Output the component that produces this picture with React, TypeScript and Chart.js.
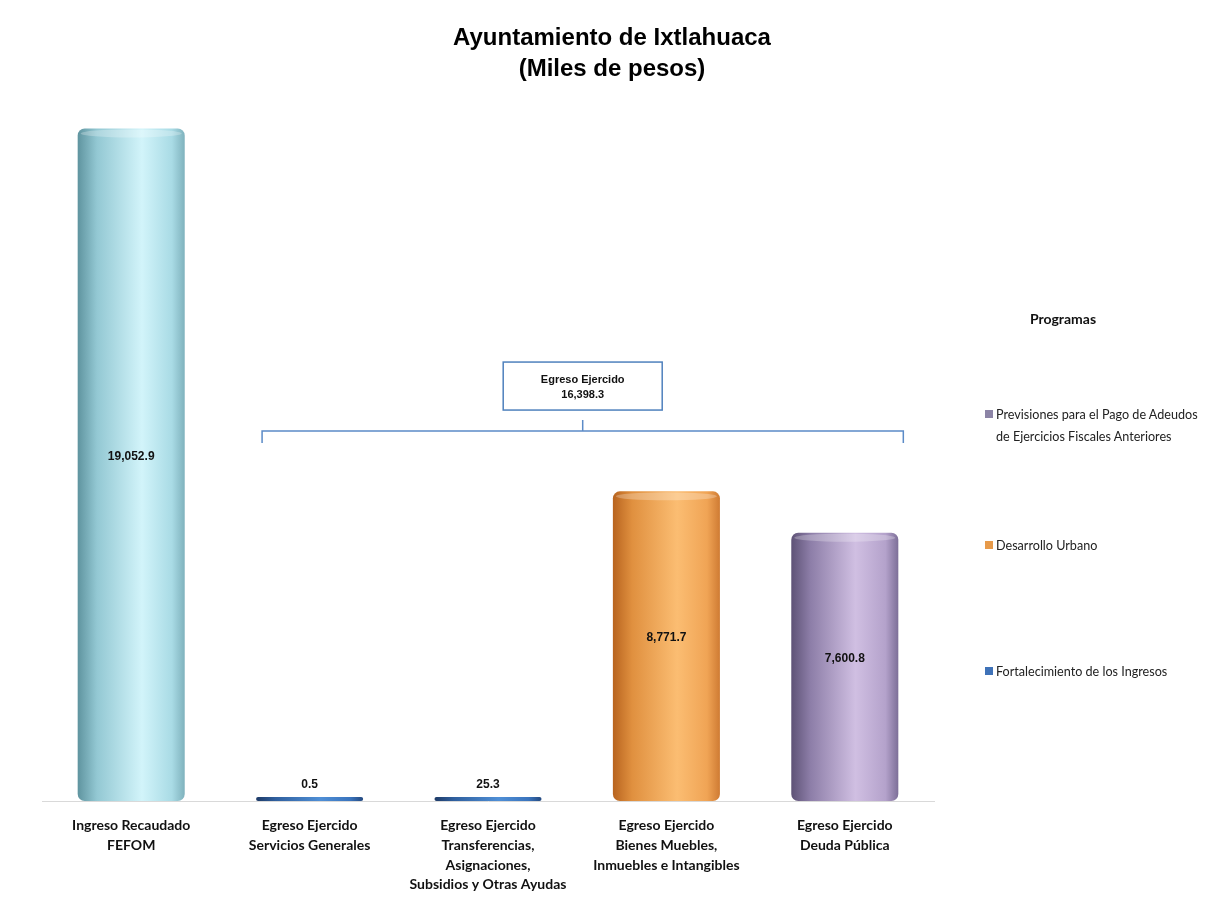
import React, { useEffect, useRef } from "react";
import { Chart, registerables } from "chart.js";

Chart.register(...registerables);

const titleLines = ["Ayuntamiento de Ixtlahuaca", "(Miles de pesos)"];
const categories: string[][] = [
  ["Ingreso Recaudado", "FEFOM"],
  ["Egreso Ejercido", "Servicios Generales"],
  ["Egreso Ejercido", "Transferencias,", "Asignaciones,", "Subsidios y Otras Ayudas"],
  ["Egreso Ejercido", "Bienes Muebles,", "Inmuebles e Intangibles"],
  ["Egreso Ejercido", "Deuda Pública"],
];
const ingresoValues = [19052.9, null, null, null, null];
const fortalecimientoValues = [null, 0.5, 25.3, null, null];
const desarrolloValues = [null, null, null, 8771.7, null];
const previsionesValues = [null, null, null, null, 7600.8];
const legendTitle = "Programas";
const bracketLabel = "Egreso Ejercido";

// gradient stops [edge dark, mid, light, mid, edge]
const ingresoShades = ["#5f949f", "#93c8d3", "#d2f4fa", "#a9dbe5", "#7fb2bd"];
const fortalecimientoShades = ["#1e3a66", "#2f5f9e", "#4f8fd6", "#3a74bd", "#24497f"];
const desarrolloShades = ["#b8641f", "#e0903f", "#fbbd72", "#f0a455", "#cf7b33"];
const previsionesShades = ["#5e5276", "#8d7ea8", "#d0bfe2", "#b4a2cb", "#7d6f98"];

const fmt = (v: number) =>
  v.toLocaleString("en-US", { minimumFractionDigits: 1, maximumFractionDigits: 1 });

function gradientFor(shades: string[]) {
  return (ctx: any) => {
    const chart = ctx.chart;
    const xs = chart.scales?.x;
    if (!xs || !chart.chartArea) return shades[2];
    const i = ctx.dataIndex ?? 0;
    const cx = xs.getPixelForValue(i);
    const w = (xs.width / categories.length) * 0.6;
    const g = chart.ctx.createLinearGradient(cx - w / 2, 0, cx + w / 2, 0);
    g.addColorStop(0, shades[0]);
    g.addColorStop(0.18, shades[1]);
    g.addColorStop(0.6, shades[2]);
    g.addColorStop(0.88, shades[3]);
    g.addColorStop(1, shades[4]);
    return g;
  };
}

const titlePlugin = {
  id: "pageTitle",
  afterDraw(chart: any) {
    const { ctx } = chart;
    ctx.save();
    ctx.fillStyle = "#000";
    ctx.font = "bold 24px 'Liberation Sans', Arial";
    ctx.textAlign = "center";
    ctx.textBaseline = "middle";
    titleLines.forEach((t, i) => ctx.fillText(t, 612, 38 + i * 31));
    ctx.restore();
  },
};

const capsPlugin = {
  id: "caps",
  afterDatasetsDraw(chart: any) {
    const { ctx } = chart;
    chart.data.datasets.forEach((ds: any, di: number) => {
      const meta = chart.getDatasetMeta(di);
      meta.data.forEach((el: any, i: number) => {
        const v = ds.data[i];
        if (v == null) return;
        const { x, y, width, base } = el.getProps(["x", "y", "width", "base"], true);
        if (base - y < 20) return;
        ctx.save();
        ctx.beginPath();
        ctx.ellipse(x, y + 5, width / 2 - 3, 4, 0, 0, Math.PI * 2);
        ctx.fillStyle = "rgba(255,255,255,0.25)";
        ctx.fill();
        ctx.restore();
      });
    });
  },
};

const labelsPlugin = {
  id: "valueLabels",
  afterDatasetsDraw(chart: any) {
    const { ctx } = chart;
    ctx.save();
    ctx.fillStyle = "#111";
    ctx.font = "bold 12px 'Liberation Sans Narrow', 'Liberation Sans', Arial";
    ctx.textAlign = "center";
    ctx.textBaseline = "middle";
    chart.data.datasets.forEach((ds: any, di: number) => {
      const meta = chart.getDatasetMeta(di);
      meta.data.forEach((el: any, i: number) => {
        const v = ds.data[i];
        if (v == null) return;
        const { x, y, base } = el.getProps(["x", "y", "base"], true);
        if (base - y > 40) {
          ctx.fillText(fmt(v), x, (y + base) / 2 - 8);
        } else {
          ctx.fillText(fmt(v), x, y - 12);
        }
      });
    });
    ctx.restore();
  },
};

const bracketPlugin = {
  id: "bracket",
  afterDraw(chart: any) {
    const { ctx } = chart;
    const xs = chart.scales.x;
    const ys = chart.scales.y;
    const w = (xs.width / categories.length) * 0.6;
    const left = xs.getPixelForValue(1) - w / 2 + 6;
    const right = xs.getPixelForValue(4) + w / 2 + 5;
    const yLine = ys.getPixelForValue(10480);
    const mid = (left + right) / 2;
    const total = [fortalecimientoValues, desarrolloValues, previsionesValues]
      .flat()
      .reduce((a: number, b: any) => a + (b ?? 0), 0);
    ctx.save();
    ctx.strokeStyle = "#5b8bc7";
    ctx.lineWidth = 1.5;
    ctx.beginPath();
    ctx.moveTo(left, yLine + 12);
    ctx.lineTo(left, yLine);
    ctx.lineTo(right, yLine);
    ctx.lineTo(right, yLine + 12);
    ctx.moveTo(mid, yLine);
    ctx.lineTo(mid, yLine - 11);
    ctx.stroke();
    const bw = 159;
    const bh = 48;
    const by = yLine - 69;
    ctx.fillStyle = "#fff";
    ctx.fillRect(mid - bw / 2, by, bw, bh);
    ctx.strokeStyle = "#4f81bd";
    ctx.lineWidth = 1.5;
    ctx.strokeRect(mid - bw / 2, by, bw, bh);
    ctx.fillStyle = "#111";
    ctx.font = "bold 11px 'Liberation Sans Narrow', 'Liberation Sans', Arial";
    ctx.textAlign = "center";
    ctx.textBaseline = "middle";
    ctx.fillText(bracketLabel, mid, by + 18);
    ctx.fillText(fmt(total), mid, by + 33);
    ctx.restore();
  },
};

const datasetsDef = [
  { label: "Ingreso Recaudado FEFOM", data: ingresoValues, shades: ingresoShades },
  { label: "Fortalecimiento de los Ingresos", data: fortalecimientoValues, shades: fortalecimientoShades },
  { label: "Desarrollo Urbano", data: desarrolloValues, shades: desarrolloShades },
  {
    label: "Previsiones para el Pago de Adeudos de Ejercicios Fiscales Anteriores",
    data: previsionesValues,
    shades: previsionesShades,
  },
];

const legendItems = [
  { lines: ["Previsiones para el Pago de Adeudos", "de Ejercicios Fiscales Anteriores"], color: "#8c84a6", top: 404 },
  { lines: ["Desarrollo Urbano"], color: "#e79a4a", top: 535 },
  { lines: ["Fortalecimiento de los Ingresos"], color: "#3f72b8", top: 661 },
];

export default function App() {
  const ref = useRef<HTMLCanvasElement>(null);
  useEffect(() => {
    if (!ref.current) return;
    const chart = new Chart(ref.current, {
      type: "bar",
      data: {
        labels: categories,
        datasets: datasetsDef.map((d) => ({
          label: d.label,
          data: d.data as any,
          backgroundColor: gradientFor(d.shades),
          borderWidth: 0,
          borderRadius: 7,
          borderSkipped: false,
          minBarLength: d.label.startsWith("Fort") ? 4 : 0,
          barPercentage: 0.6,
          categoryPercentage: 1,
        })),
      },
      options: {
        responsive: false,
        animation: false,
        layout: { padding: { left: 42, right: 271, top: 95, bottom: 0 } },
        plugins: {
          legend: { display: false },
          tooltip: { enabled: false },
          title: { display: false },
        },
        scales: {
          x: {
            stacked: true,
            grid: { display: false },
            border: { display: true, color: "#d9d9d9", width: 1 },
            ticks: {
              color: "#111",
              padding: 7,
              maxRotation: 0,
              autoSkip: false,
              font: { family: "Lato, 'Open Sans'", size: 14, weight: "bold", lineHeight: 1.4 },
            },
            afterFit: (scale: any) => {
              scale.height = 101;
            },
          },
          y: { stacked: true, display: false, min: 0, max: 20000 },
        },
      },
      plugins: [capsPlugin, labelsPlugin, bracketPlugin, titlePlugin],
    });
    return () => chart.destroy();
  }, []);

  return (
    <div style={{ position: "fixed", left: 0, top: 0, width: 1205, height: 902, background: "#fff" }}>
      <canvas ref={ref} width={1205} height={902} style={{ display: "block" }} />
      <div
        style={{
          position: "absolute",
          left: 963,
          top: 310,
          width: 200,
          textAlign: "center",
          font: "bold 14px Lato, 'Open Sans', sans-serif",
          color: "#111",
        }}
      >
        {legendTitle}
      </div>
      {legendItems.map((it) => (
        <div key={it.lines[0]} style={{ position: "absolute", left: 985, top: it.top }}>
          <div
            style={{
              position: "absolute",
              left: 0,
              top: 6,
              width: 8,
              height: 8,
              background: it.color,
            }}
          />
          <div
            style={{
              position: "absolute",
              left: 11,
              top: 0,
              whiteSpace: "nowrap",
              font: "12.6px Lato, 'Open Sans', sans-serif",
              lineHeight: "22px",
              color: "#222",
            }}
          >
            {it.lines.map((l) => (
              <div key={l}>{l}</div>
            ))}
          </div>
        </div>
      ))}
    </div>
  );
}
